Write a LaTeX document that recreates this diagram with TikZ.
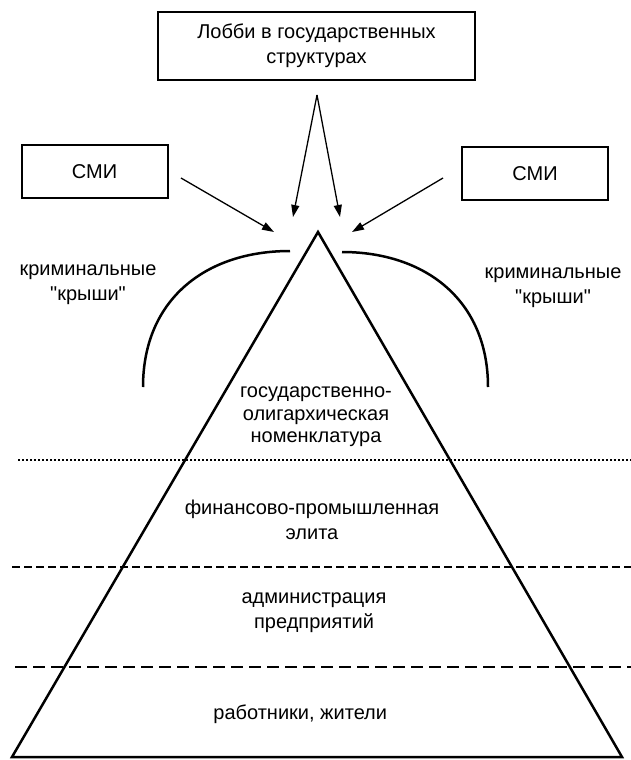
\documentclass[tikz,border=0pt]{standalone}
\usepackage{fontspec}
\setmainfont{Liberation Sans}
\usetikzlibrary{arrows.meta}

\tikzset{
  boxnode/.style={draw, line width=2pt, minimum width=#1, minimum height=53pt, inner sep=0pt, align=center},
  boxnode/.default=146pt,
  lbl/.style={align=center, font=\fontsize{20}{25}\selectfont},
  tight/.style={font=\fontsize{20}{22.5}\selectfont},
  push/.style={line width=1.3pt, -{Triangle[length=12pt,width=8pt]}},
  roof/.style={line width=2.5pt}
}

\begin{document}
\begin{tikzpicture}[x=1pt, y=-1pt]
  \useasboundingbox (0,0) rectangle (631,760);

  % boxes on top
  \node[boxnode=317pt, minimum height=68pt, lbl] (lobby) at (316.5,46) {Лобби в государственных\\структурах};
  \node[boxnode, lbl] (smiL) at (94.5,171.5) {СМИ};
  \node[boxnode, lbl] (smiR) at (535,173.5) {СМИ};

  % pyramid
  \coordinate (apex) at (318,232);
  \coordinate (baseL) at (12,757);
  \coordinate (baseR) at (622,757);
  \draw[roof, line join=miter] (baseL) -- (apex) -- (baseR) -- cycle;

  % arrows into the top
  \coordinate (lobbyOut) at (317,95);
  \coordinate (tipA) at (293,217);
  \coordinate (tipB) at (340,217);
  \coordinate (smiLOut) at (181,178);
  \coordinate (smiROut) at (443,178);
  \coordinate (tipL) at (274,232);
  \coordinate (tipR) at (352,232);
  \draw[push] (lobbyOut) -- (tipA);
  \draw[push] (lobbyOut) -- (tipB);
  \draw[push] (smiLOut) -- (tipL);
  \draw[push] (smiROut) -- (tipR);

  % criminal roofs
  \draw[roof] (143,387) .. controls (143,300) and (205,251) .. (290,251);
  \draw[roof] (342,252) .. controls (425,252) and (488,300) .. (488,387);
  \node[lbl] (krL) at (88,285) {криминальные\\\textquotedbl крыши\textquotedbl};
  \node[lbl] (krR) at (553,288) {криминальные\\\textquotedbl крыши\textquotedbl};

  % layer borders
  \draw[line width=2pt, dash pattern=on 2pt off 2pt] (18,460) -- (631,460);
  \draw[line width=1.2pt, dash pattern=on 8pt off 4pt] (12,567) -- (631,567);
  \draw[line width=1.5pt, dash pattern=on 12pt off 6pt] (15,667) -- (631,667);

  % layers
  \node[lbl, tight] (nom) at (316,417) {государственно-\\олигархическая\\номенклатура};
  \foreach \x/\y/\name/\txt in {
    312/520/elite/{финансово-промышленная\\элита},
    314/613/admin/{администрация\\предприятий},
    303/714/work/{работники, жители}
  }
  {
    \node[lbl] (\name) at (\x,\y) {\txt};
  }
\end{tikzpicture}
\end{document}
